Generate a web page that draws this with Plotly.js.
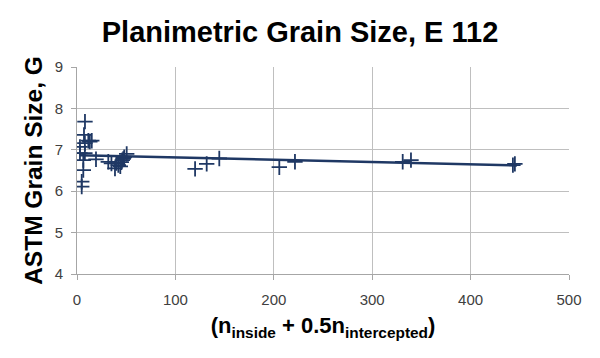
<!DOCTYPE html>
<html>
<head>
<meta charset="utf-8">
<script src="https://cdn.plot.ly/plotly-3.0.1.min.js"></script>
<style>html,body{margin:0;padding:0;background:#fff;}#chart{width:600px;height:358px;}</style>
</head>
<body>
<div id="chart"></div>
<script>
// Measured points: n_inside + 0.5 n_intercepted vs ASTM G
const countX = [8.1, 7.1, 11.5, 13, 15, 8, 3, 3, 8, 19.3, 6.4, 6.4, 4.8, 4.8,
  31.8, 35, 38.6, 40, 42, 44, 45, 46, 47, 48, 50.5,
  120, 131.8, 144.6, 205.6, 221.5, 331, 339.4, 443, 445];
const grainG = [7.68, 7.36, 7.22, 7.2, 7.22, 7.16, 7.07, 6.92, 6.92, 6.77, 6.75, 6.51, 6.23, 6.11,
  6.71, 6.67, 6.55, 6.68, 6.63, 6.6, 6.7, 6.75, 6.78, 6.82, 6.9,
  6.54, 6.66, 6.79, 6.58, 6.71, 6.71, 6.75, 6.63, 6.66];
// Linear trend line end points
const trendX = [3, 447];
const trendY = [6.87, 6.62];
const xTicks = [0, 100, 200, 300, 400, 500];
const yTicks = [4, 5, 6, 7, 8, 9];

const navy = '#1f3864';
const data = [
  {x: countX, y: grainG, type: 'scatter', mode: 'markers',
   marker: {symbol: 'cross-thin-open', size: 11, color: navy, line: {color: navy, width: 1.8}},
   hoverinfo: 'x+y', showlegend: false},
  {x: trendX, y: trendY, type: 'scatter', mode: 'lines',
   line: {color: navy, width: 2.5}, showlegend: false}
];
const layout = {
  width: 600, height: 358,
  margin: {l: 77, r: 31, t: 67, b: 84},
  paper_bgcolor: '#fff', plot_bgcolor: '#fff',
  font: {family: '"Liberation Sans", Arial, sans-serif', color: '#404040'},
  title: {text: '<b>Planimetric Grain Size, E 112</b>', x: 0.5, xanchor: 'center', y: 0.91, yanchor: 'middle',
          font: {size: 29, color: '#000', family: '"Liberation Sans", Arial, sans-serif'}},
  xaxis: {range: [0, 500], tickvals: xTicks, ticktext: xTicks.map(String),
          showgrid: true, gridcolor: '#bfbfbf', gridwidth: 1, zeroline: false,
          showline: true, linecolor: '#a6a6a6', linewidth: 1,
          ticks: 'outside', ticklen: 5, tickcolor: '#a6a6a6', ticklabelstandoff: 7,
          tickfont: {size: 15, color: '#404040'},
          title: {text: '<b>(n<sub>inside</sub> + 0.5n<sub>intercepted</sub>)</b>', standoff: 10,
                  font: {size: 22, color: '#000'}}},
  yaxis: {range: [4, 9], tickvals: yTicks, ticktext: yTicks.map(String),
          showgrid: true, gridcolor: '#bfbfbf', gridwidth: 1, zeroline: false,
          showline: true, linecolor: '#a6a6a6', linewidth: 1,
          ticks: 'outside', ticklen: 5, tickcolor: '#a6a6a6', ticklabelstandoff: 5,
          tickfont: {size: 15, color: '#404040'},
          title: {text: '<b>ASTM Grain Size, G</b>', standoff: 5,
                  font: {size: 24.5, color: '#000'}}}
};
Plotly.newPlot('chart', data, layout, {displayModeBar: false, staticPlot: true});
</script>
</body>
</html>
